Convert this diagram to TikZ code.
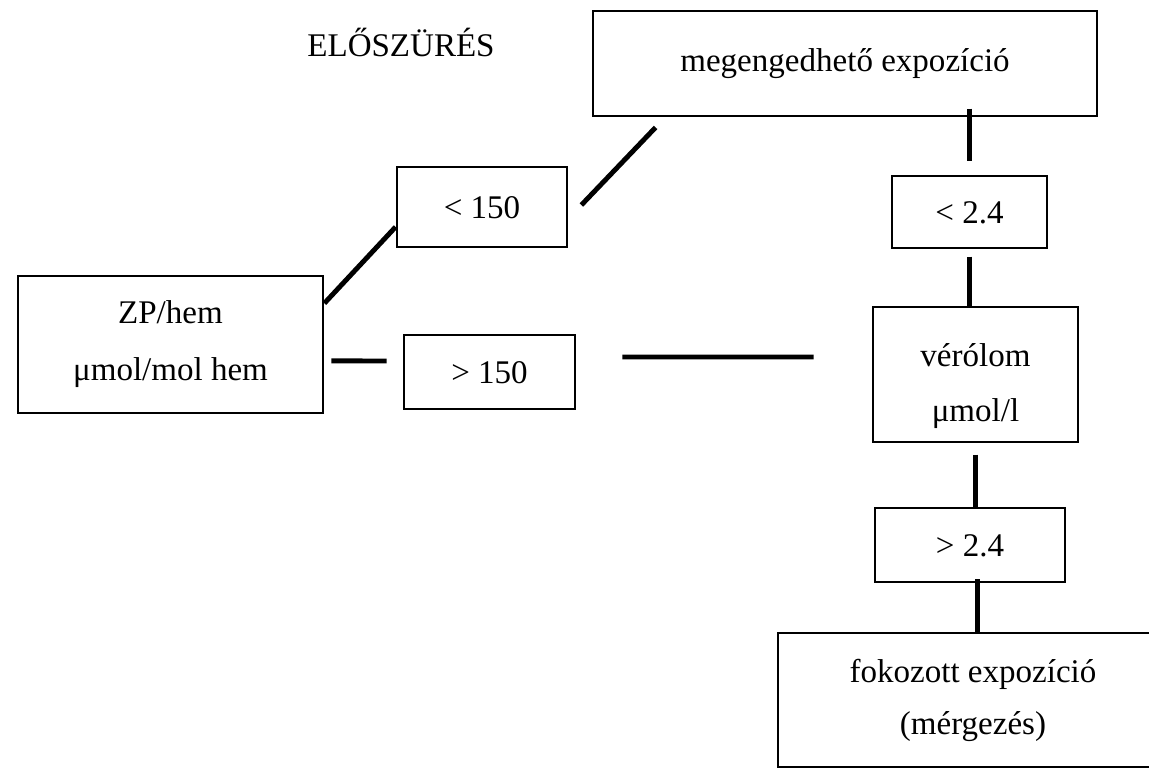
\documentclass[tikz,border=0pt]{standalone}
\usepackage{fontspec}
\setmainfont{Liberation Serif}
\usetikzlibrary{calc}

\tikzstyle{box} = [draw, rectangle, line width=2pt, inner sep=0pt, align=center, font=\fontsize{23.5}{39}\selectfont]
\tikzstyle{numbox} = [box, text height=1.7em, text depth=0pt]
\tikzstyle{link} = [line width=3.5pt]

\begin{document}
\begin{tikzpicture}
	\useasboundingbox (0,0) rectangle (28.725,-19.225);
	\node[font=\fontsize{23.5}{28}\selectfont, anchor=base] (title) at (10.025,-1.425) {ELŐSZÜRÉS};
	\node[box, minimum width=12.6cm, minimum height=2.625cm] (expo) at (21.125,-1.5875) {megengedhető expozíció};
	\node[numbox, minimum width=4.25cm, minimum height=2cm] (lt150) at (12.05,-5.175) {< 150};
	\node[box, minimum width=7.625cm, minimum height=3.425cm, font=\fontsize{23.5}{40.5}\selectfont] (zp) at (4.2625,-8.6125) {ZP/hem\\μmol/mol hem};
	\node[numbox, minimum width=4.275cm, minimum height=1.85cm] (gt150) at (12.2375,-9.3) {> 150};
	\node[numbox, minimum width=3.875cm, minimum height=1.8cm] (lt24) at (24.2375,-5.3) {< 2.4};
	\node[box, minimum width=5.125cm, minimum height=3.375cm, text height=72.5pt, text depth=5.2pt] (verolom) at (24.3875,-9.3625) {vérólom\\μmol/l};
	\node[numbox, minimum width=4.75cm, minimum height=1.85cm] (gt24) at (24.25,-13.625) {> 2.4};
	\node[box, minimum width=9.75cm, minimum height=3.35cm, font=\fontsize{23.5}{37}\selectfont] (fokozott) at (24.325,-17.5) {fokozott expozíció\\(mérgezés)};
	\draw[link] (zp.15.2) -- (lt150.193.2);
	\draw[link] ($(lt150.east)+(0.325,0.05)$) -- ($(expo.south west)+(1.6,-0.25)$);
	\draw[link] ($(zp.east)+(0.175,-0.41)$) -- ($(gt150.west)+(-0.4,0.275)$);
	\draw[link] ($(gt150.east)+(1.15,0.375)$) -- ($(verolom.west)+(-1.45,0.4375)$);
	\draw[link] ($(lt24.north |- expo.south)+(0,0.22)$) -- ($(lt24.north)+(0,0.35)$);
	\draw[link] ($(lt24.south)+(0,-0.18)$) -- (lt24.south |- verolom.north);
	\draw[link] ($(verolom.south)+(0,-0.28)$) -- (verolom.south |- gt24.north);
	\draw[link] ($(gt24.south)+(0.18,0.1)$) -- ($(gt24.south |- fokozott.north)+(0.18,0)$);
\end{tikzpicture}
\end{document}
